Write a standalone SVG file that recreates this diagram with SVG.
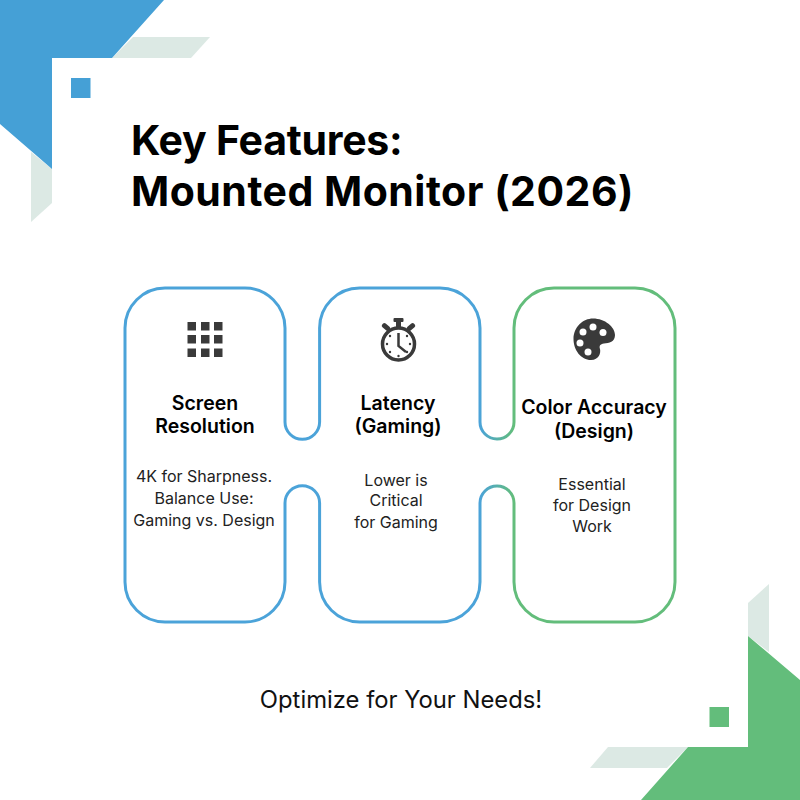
<svg xmlns="http://www.w3.org/2000/svg" width="800" height="800" viewBox="0 0 800 800">
<style>
text{font-family:Inter,"Liberation Sans",sans-serif;text-anchor:middle;fill:#111}
.t{font-size:41px;font-weight:700;text-anchor:start;fill:#000}
.h{font-size:19.500px;font-weight:600;fill:#000}
.b{font-size:16px;fill:#222}
.pale{fill:#dce9e4}
.blue{fill:#45a0d6}
.green{fill:#63bd7b}
.ic{fill:#3a3a3a}
</style>
<defs>
<linearGradient id="g" gradientUnits="userSpaceOnUse" x1="125" y1="0" x2="675" y2="0">
<stop offset="0.645" stop-color="#4ba3d9"/><stop offset="0.707" stop-color="#63bd7b"/>
</linearGradient>
</defs>
<rect width="800" height="800" fill="#fff"/>
<g id="deco">
<polygon class="pale" points="112,58 133,37 210,37 191,58"/>
<polygon class="pale" points="31,152 52,169 52,203 31,222"/>
<polygon class="blue" points="0,0 164,0 112,58 52,58 52,169 0,124"/>
<rect class="blue" x="71" y="78" width="19.500" height="20"/>
<polygon class="pale" points="748,603 769,584 769,652 748,636"/>
<polygon class="pale" points="590,768 608,747 688,747 667,768"/>
<polygon class="green" points="748,636 800,680 800,800 641,800 688,747 748,747"/>
<rect class="green" x="709.500" y="707" width="19.500" height="20"/>
</g>
<g id="title">
<text class="t" x="131" y="155" letter-spacing="-0.250">Key Features:</text>
<text class="t" x="131" y="206" letter-spacing="0.500">Mounted Monitor (2026)</text>
</g>
<g id="connectors">
<path fill="none" stroke="url(#g)" stroke-width="3" d="M165 288H245A40 40 0 0 1 285 328V422A17.300 17.300 0 0 0 319.600 422V328A40 40 0 0 1 359.600 288H440A40 40 0 0 1 480 328V422A17 17 0 0 0 514 422V328A40 40 0 0 1 554 288H635A40 40 0 0 1 675 328V582A40 40 0 0 1 635 622H554A40 40 0 0 1 514 582V503A17 17 0 0 0 480 503V582A40 40 0 0 1 440 622H359.600A40 40 0 0 1 319.600 582V503A17.300 17.300 0 0 0 285 503V582A40 40 0 0 1 245 622H165A40 40 0 0 1 125 582V328A40 40 0 0 1 165 288Z"/>
</g>
<g id="card-resolution">
<g class="ic">
<rect x="187.500" y="322" width="8.500" height="8.500"/><rect x="201" y="322" width="8.500" height="8.500"/><rect x="214" y="322" width="8.500" height="8.500"/>
<rect x="187.500" y="335" width="8.500" height="8.500"/><rect x="201" y="335" width="8.500" height="8.500"/><rect x="214" y="335" width="8.500" height="8.500"/>
<rect x="187.500" y="348.500" width="8.500" height="8.500"/><rect x="201" y="348.500" width="8.500" height="8.500"/><rect x="214" y="348.500" width="8.500" height="8.500"/>
</g>
<text class="h" x="205" y="410">Screen</text>
<text class="h" x="205" y="433">Resolution</text>
<text class="b" x="204" y="482">4K for Sharpness.</text>
<text class="b" x="204" y="504">Balance Use:</text>
<text class="b" x="204" y="526">Gaming vs. Design</text>
</g>
<g id="card-latency">
<g class="ic">
<rect x="393.500" y="318" width="10" height="4" rx="1"/>
<rect x="396" y="320" width="5" height="9"/>
<rect x="381.500" y="324.500" width="9" height="5" rx="2" transform="rotate(40 386 327)"/>
<rect x="406.500" y="324.500" width="9" height="5" rx="2" transform="rotate(-40 411 327)"/>
<circle cx="398.500" cy="344" r="16" fill="#fff" stroke="#3a3a3a" stroke-width="3.500"/>
<path d="M398.500 333V346L406 352" fill="none" stroke="#3a3a3a" stroke-width="2.500"/>
<circle cx="387" cy="344" r="1.200"/><circle cx="410" cy="344" r="1.200"/><circle cx="398.500" cy="356" r="1.200"/><circle cx="390" cy="336" r="1.200"/><circle cx="407" cy="336" r="1.200"/><circle cx="390" cy="352" r="1.200"/><circle cx="407" cy="352" r="1.200"/>
</g>
<text class="h" x="398" y="410">Latency</text>
<text class="h" x="398" y="433">(Gaming)</text>
<text class="b" x="396" y="486">Lower is</text>
<text class="b" x="396" y="506">Critical</text>
<text class="b" x="396" y="528">for Gaming</text>
</g>
<g id="card-color">
<path class="ic" d="M593 318.500C605 318.500 615 327 615 335C615 342 609 343 604 343.500C600 344 599 346 600 349C601 353 599 360 591 360C581 360 573.500 350 573.500 339C573.500 327 583 318.500 593 318.500Z"/>
<g fill="#fff">
<circle cx="593" cy="327" r="3.500"/><circle cx="583" cy="332" r="3.500"/><circle cx="603" cy="332.500" r="3.500"/><circle cx="580" cy="343" r="3.500"/><circle cx="588" cy="352" r="3.500"/>
</g>
<text class="h" x="594" y="414">Color Accuracy</text>
<text class="h" x="594" y="438">(Design)</text>
<text class="b" x="592" y="490">Essential</text>
<text class="b" x="592" y="511">for Design</text>
<text class="b" x="592" y="532">Work</text>
</g>
<g id="footer">
<text x="401" y="708" font-size="23.800" fill="#111">Optimize for Your Needs!</text>
</g>
</svg>
